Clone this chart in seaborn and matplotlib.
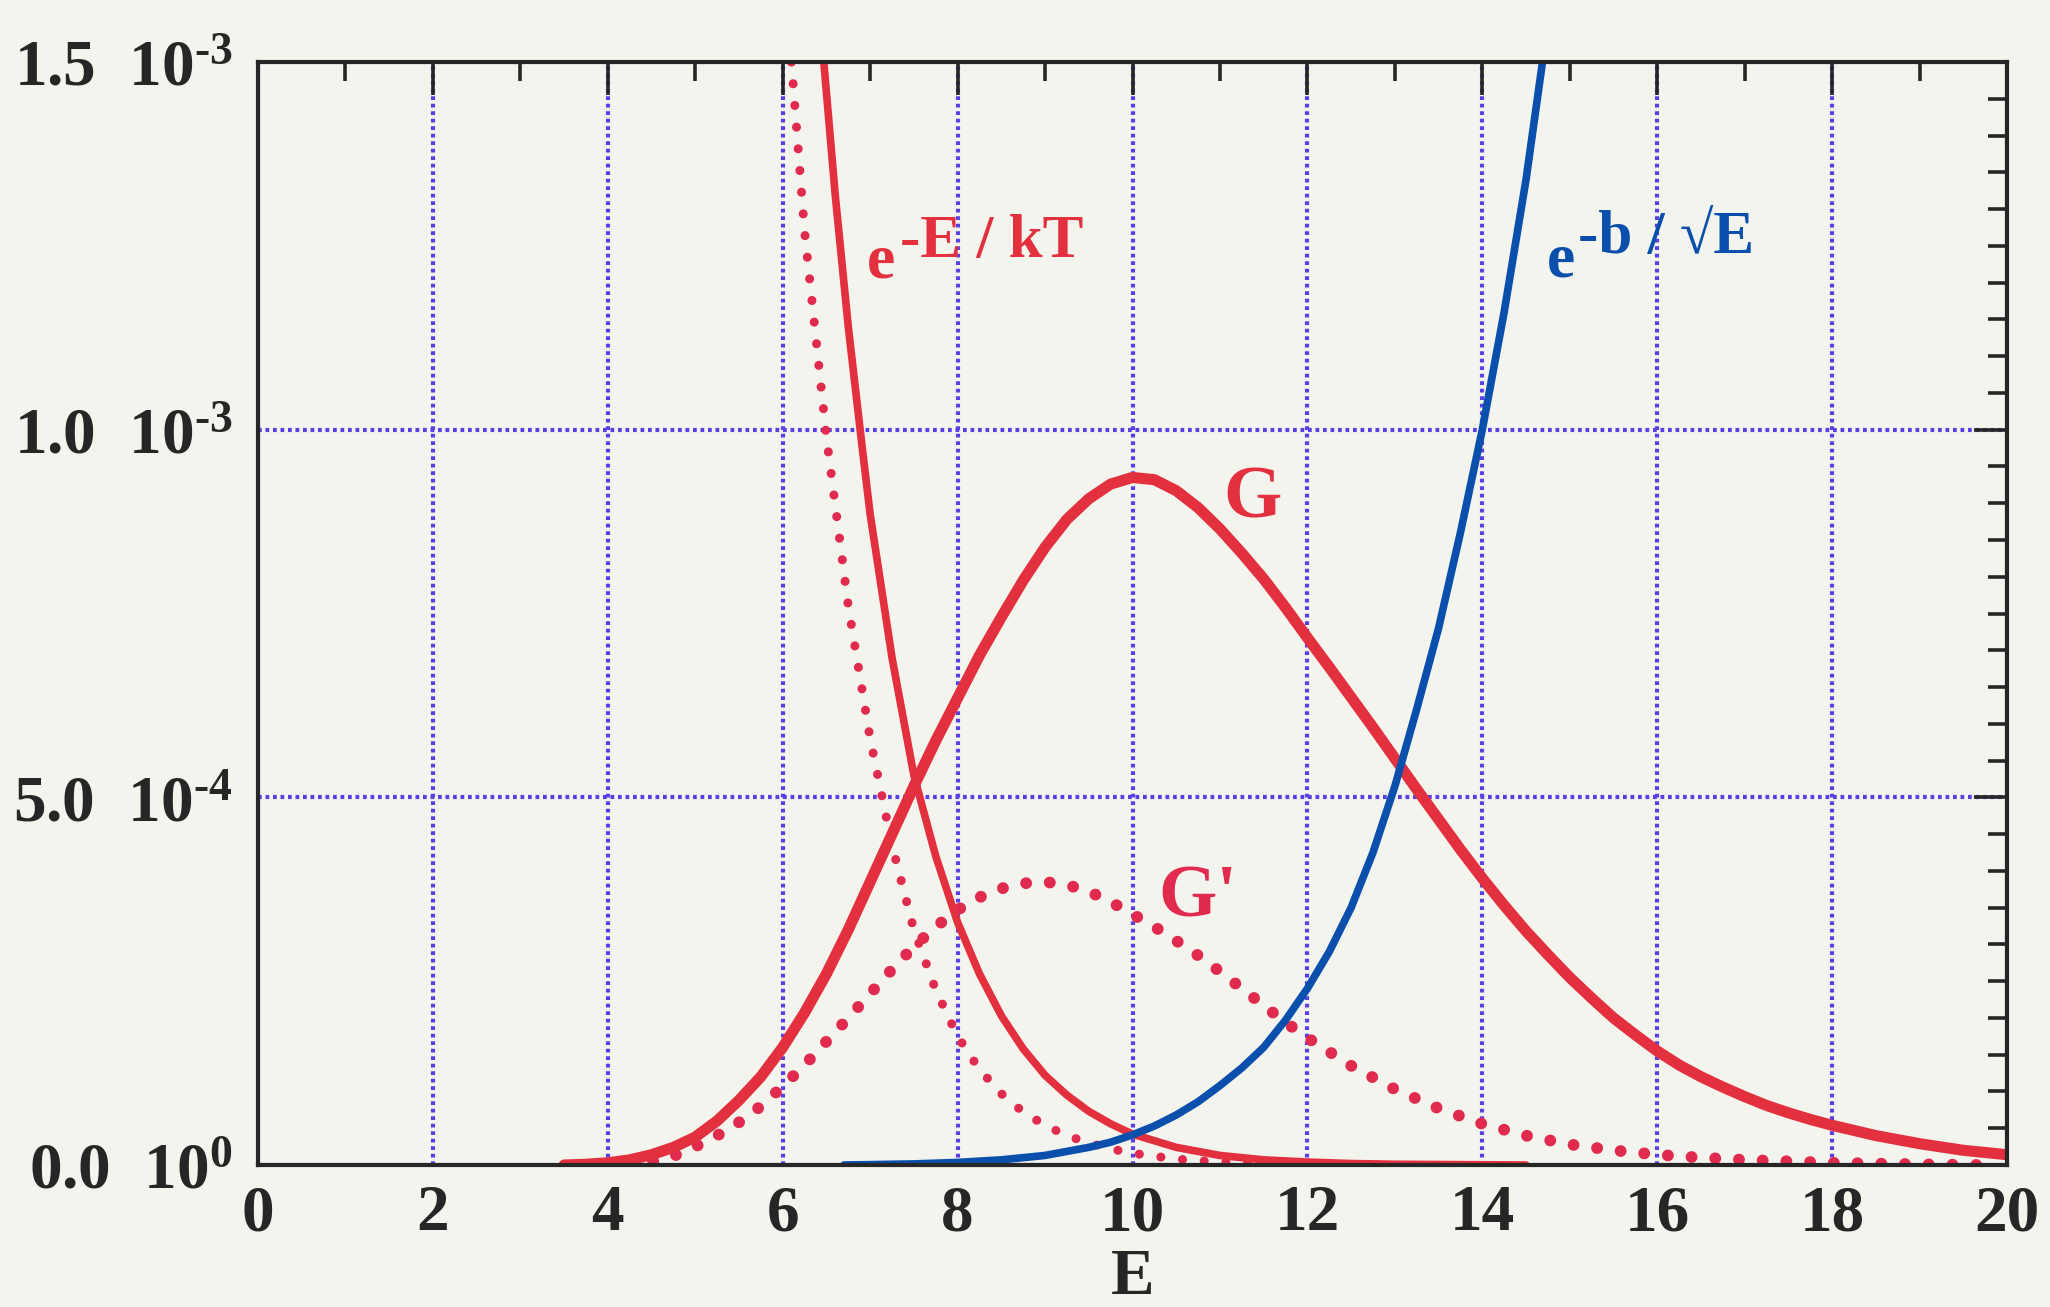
import matplotlib
matplotlib.use("Agg")
import matplotlib.pyplot as plt
import seaborn as sns
from matplotlib.ticker import MultipleLocator, FixedLocator, FixedFormatter

# ---------------- data, values in units of 1e-4 ----------------
# G (thick solid red)
E_G = [3.5, 3.75, 4.0, 4.25, 4.5, 4.75, 5.0, 5.25, 5.5, 5.75, 6.0, 6.25, 6.5, 6.75, 7.0,
       7.25, 7.5, 7.75, 8.0, 8.25, 8.5, 8.75, 9.0, 9.25, 9.5, 9.75, 10.0, 10.25, 10.5,
       10.75, 11.0, 11.25, 11.5, 11.75, 12.0, 12.25, 12.5, 12.75, 13.0, 13.25, 13.5,
       13.75, 14.0, 14.25, 14.5, 14.75, 15.0, 15.25, 15.5, 15.75, 16.0, 16.25, 16.5,
       16.75, 17.0, 17.25, 17.5, 17.75, 18.0, 18.5, 19.0, 19.5, 20.0]
G = [0.0, 0.01, 0.03, 0.07, 0.14, 0.24, 0.38, 0.6, 0.88, 1.2, 1.6, 2.07, 2.6, 3.2, 3.85,
     4.5, 5.15, 5.77, 6.35, 6.93, 7.45, 7.95, 8.4, 8.78, 9.06, 9.26, 9.35, 9.32, 9.17,
     8.94, 8.65, 8.32, 7.97, 7.58, 7.17, 6.77, 6.36, 5.95, 5.53, 5.11, 4.7,
     4.29, 3.9, 3.53, 3.18, 2.86, 2.55, 2.27, 2.0, 1.77, 1.55, 1.36, 1.2,
     1.06, 0.93, 0.81, 0.71, 0.62, 0.54, 0.4, 0.29, 0.2, 0.14]

# e^{-E/kT} (thin solid red)
E_exp = [6.47, 6.6, 6.75, 6.9, 7.0, 7.25, 7.5, 7.75, 8.0, 8.25, 8.5, 8.75, 9.0, 9.25,
         9.5, 9.75, 10.0, 10.5, 11.0, 11.5, 12.0, 12.5, 13.0, 14.5]
EXP = [15.0, 13.2, 11.4, 9.85, 8.85, 6.9, 5.3, 4.2, 3.3, 2.6, 2.03, 1.58, 1.22, 0.95,
       0.73, 0.56, 0.42, 0.24, 0.13, 0.07, 0.04, 0.02, 0.01, 0.0]

# dotted red exponential
E_expd = [6.1, 6.25, 6.5, 6.75, 7.0, 7.25, 7.5, 7.75, 8.0, 8.25, 8.5, 8.75, 9.0, 9.25,
          9.5, 9.75, 10.0, 10.5, 11.0, 11.5, 12.0, 13.0]
EXPD = [15.0, 12.7, 9.9, 7.6, 5.8, 4.35, 3.2, 2.38, 1.75, 1.3, 0.97, 0.72, 0.54, 0.4,
        0.3, 0.22, 0.16, 0.08, 0.04, 0.02, 0.01, 0.0]

# G' (dotted red)
E_Gp = [4.25, 4.5, 4.75, 5.0, 5.25, 5.5, 5.75, 6.0, 6.25, 6.5, 6.75, 7.0, 7.25, 7.5,
        7.75, 8.0, 8.25, 8.5, 8.75, 9.0, 9.25, 9.5, 9.75, 10.0, 10.25, 10.5, 10.75,
        11.0, 11.25, 11.5, 11.75, 12.0, 12.5, 13.0, 13.5, 14.0, 14.5, 15.0, 15.5,
        16.0, 16.5, 17.0, 18.0, 19.0, 19.7]
Gp = [0.0, 0.04, 0.12, 0.25, 0.4, 0.58, 0.8, 1.07, 1.36, 1.68, 2.0, 2.33, 2.66, 2.97,
      3.24, 3.47, 3.64, 3.76, 3.83, 3.85, 3.81, 3.72, 3.58, 3.41, 3.24, 3.05, 2.85,
      2.63, 2.4, 2.17, 1.94, 1.73, 1.35, 1.03, 0.77, 0.56, 0.4, 0.28, 0.2,
      0.14, 0.1, 0.07, 0.03, 0.01, 0.0]

# e^{-b/sqrt(E)} (blue)
E_bl = [6.7, 7.0, 7.5, 8.0, 8.5, 9.0, 9.5, 9.75, 10.0, 10.25, 10.5, 10.75, 11.0, 11.25,
        11.5, 11.75, 12.0, 12.25, 12.5, 12.75, 13.0, 13.25, 13.5, 13.75, 14.0, 14.25,
        14.5, 14.7]
BL = [0.0, 0.005, 0.015, 0.035, 0.07, 0.13, 0.24, 0.31, 0.41, 0.53, 0.68, 0.86, 1.08,
      1.32, 1.6, 1.97, 2.4, 2.9, 3.5, 4.25, 5.15, 6.2, 7.3, 8.6, 10.0, 11.6, 13.4, 15.1]

SCALE = 1e-4
x_ticks = [0, 2, 4, 6, 8, 10, 12, 14, 16, 18, 20]
y_ticks = [0.0, 5e-4, 1e-3, 1.5e-3]
y_tick_labels = ["$\\mathbf{0.0\\ \\;10^{0}}$", "$\\mathbf{5.0\\ \\;10^{\u20104}}$",
                 "$\\mathbf{1.0\\ \\;10^{\u20103}}$", "$\\mathbf{1.5\\ \\;10^{\u20103}}$"]

# ---------------- style ----------------
BG = "#f4f4ef"
RED = "#e3303f"
RED_D = "#e02a4e"
BLUE = "#0a4fab"
GRID = "#5b3fe6"
INK = "#262626"

sns.set_theme(style="white")
plt.rcParams["font.family"] = ["Liberation Serif", "DejaVu Serif"]
plt.rcParams["font.weight"] = "bold"
plt.rcParams["mathtext.fontset"] = "custom"
plt.rcParams["mathtext.rm"] = "Liberation Serif:bold"
plt.rcParams["mathtext.bf"] = "Liberation Serif:bold"
plt.rcParams["mathtext.it"] = "Liberation Serif:bold"

fig = plt.figure(figsize=(20.5, 13.07), dpi=100, facecolor=BG)
ax = fig.add_axes([258 / 2050, 142 / 1307, 1749 / 2050, 1103 / 1307])
ax.set_facecolor(BG)

dot_kw = dict(dash_capstyle="round", solid_capstyle="round")

def scaled(v):
    return [a * SCALE for a in v]

sns.lineplot(x=E_G, y=scaled(G), ax=ax, color=RED, linewidth=8, sort=False, zorder=4)
sns.lineplot(x=E_exp, y=scaled(EXP), ax=ax, color=RED, linewidth=5.5, sort=False, zorder=4)
sns.lineplot(x=E_expd, y=scaled(EXPD), ax=ax, color=RED_D, linewidth=6.5, sort=False,
             linestyle=(0, (0.01, 2.4)), zorder=3, **dot_kw)
sns.lineplot(x=E_Gp, y=scaled(Gp), ax=ax, color=RED_D, linewidth=8.5, sort=False,
             linestyle=(0, (0.01, 2.0)), zorder=3, **dot_kw)
sns.lineplot(x=E_bl, y=scaled(BL), ax=ax, color=BLUE, linewidth=5.5, sort=False, zorder=4)

ax.set_xlim(0, 20)
ax.set_ylim(0, 1.5e-3)

ax.xaxis.set_major_locator(FixedLocator(x_ticks))
ax.xaxis.set_minor_locator(MultipleLocator(1))
ax.yaxis.set_major_locator(FixedLocator(y_ticks))
ax.yaxis.set_major_formatter(FixedFormatter(y_tick_labels))
ax.yaxis.set_minor_locator(MultipleLocator(5e-5))

ax.grid(True, which="major", color=GRID, linestyle=(0, (0.9, 0.9)), linewidth=3)
ax.set_axisbelow(True)

ax.tick_params(which="both", direction="in", top=True, right=True, colors=INK,
               width=2.6)
ax.tick_params(which="major", length=24, labelsize=47)
ax.tick_params(which="minor", length=14)
ax.tick_params(axis="y", which="major", pad=18)
ax.tick_params(axis="x", which="major", pad=14)
for lab in ax.get_xticklabels():
    lab.set_fontweight("bold")

for s in ax.spines.values():
    s.set_color(INK)
    s.set_linewidth(3)
    s.set_zorder(5)

ax.set_xlabel("E", fontsize=47, fontweight="bold", color=INK, labelpad=2.5)
ax.set_ylabel("")

# curve labels
fs = 44
ax.text(6.96, 1.207e-3, "e", color=RED, fontsize=46, fontweight="bold", va="baseline")
ax.annotate("-E / kT", xy=(6.96, 1.207e-3), xytext=(24, 15), textcoords="offset points",
            color=RED, fontsize=fs, fontweight="bold", va="baseline", ha="left")
ax.text(14.74, 1.208e-3, "e", color=BLUE, fontsize=46, fontweight="bold", va="baseline")
ax.annotate("-b / \u221aE", xy=(14.74, 1.208e-3), xytext=(22, 17),
            textcoords="offset points", color=BLUE, fontsize=fs, fontweight="bold",
            va="baseline", ha="left")
ax.text(11.37, 9.05e-4, "G", color=RED, fontsize=54, fontweight="bold",
        va="center", ha="center")
ax.text(10.75, 3.63e-4, "G'", color=RED_D, fontsize=54, fontweight="bold",
        va="center", ha="center")

fig.savefig("out.png", dpi=100, facecolor=BG)
